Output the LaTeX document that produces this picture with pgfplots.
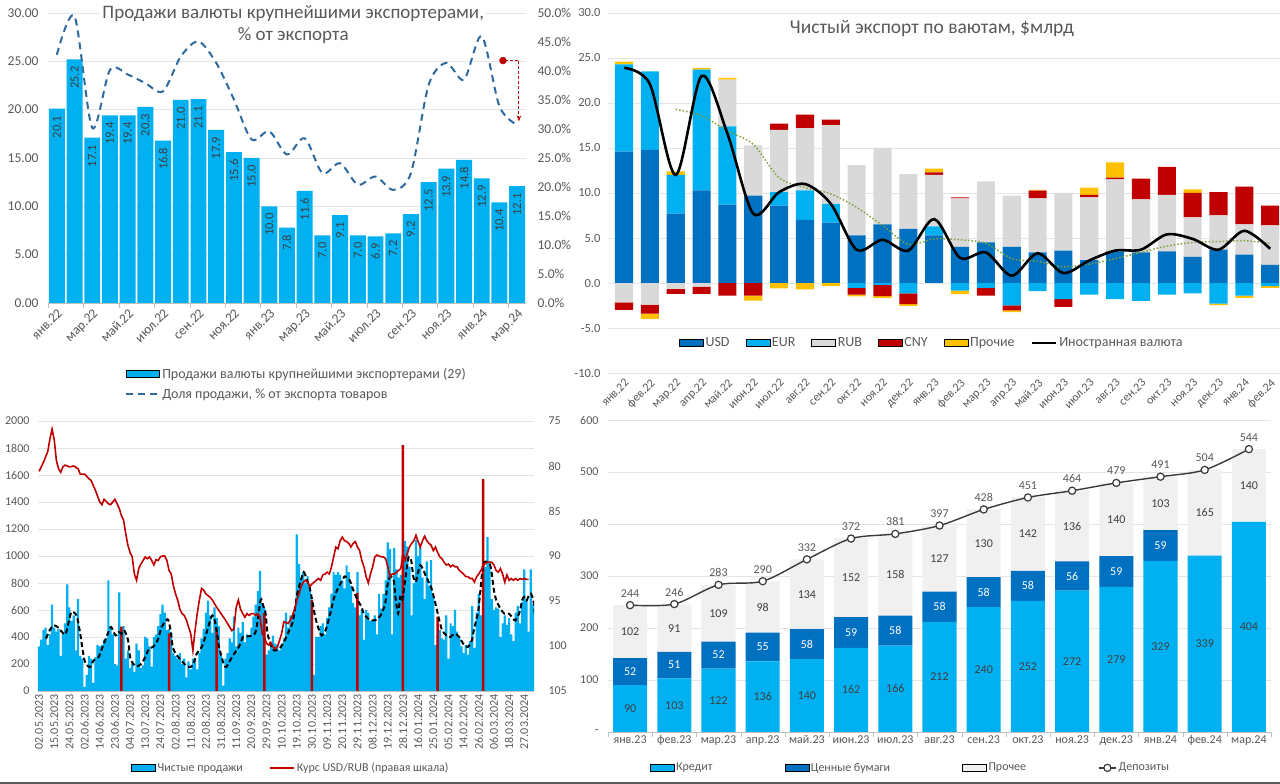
\documentclass[border=0pt]{standalone}
\usepackage{fontspec}
\setmainfont{Carlito}
\usepackage{pgfplots}
\pgfplotsset{compat=1.18}
\usetikzlibrary{arrows.meta}

\definecolor{cLB}{HTML}{00B0F0}
\definecolor{cDB}{HTML}{0070C0}
\definecolor{cGR}{HTML}{D9D9D9}
\definecolor{cRD}{HTML}{C00000}
\definecolor{cYL}{HTML}{FFC000}
\definecolor{cTX}{HTML}{595959}
\definecolor{cTXd}{HTML}{404040}
\definecolor{cGRID}{HTML}{E4E4E4}
\definecolor{cAxis}{HTML}{BFBFBF}
\definecolor{cDash}{HTML}{2E6A9E}
\definecolor{cGreen}{HTML}{7FA33A}
\definecolor{cPR}{HTML}{F0F0F0}
\definecolor{cLine}{HTML}{3A3A3A}

\newcommand\fT{\fontsize{19}{21}\selectfont}
\newcommand\fTB{\fontsize{19.5}{22}\selectfont}
\newcommand\fTick{\fontsize{13.5}{16}\selectfont}
\newcommand\fS{\fontsize{12}{14}\selectfont}
\newcommand\fSB{\fontsize{12.5}{15}\selectfont}
\newcommand\fLeg{\fontsize{14}{16}\selectfont}

\pgfplotsset{
  every axis/.append style={/pgf/number format/assume math mode=true,/pgf/number format/1000 sep={}},
  base/.style={scale only axis, anchor=south west, tick label style={text=cTX}},
  boxlegA/.style={legend image code/.code={\fill[##1] (0pt,-3.5pt) rectangle (33pt,3.5pt);}},
  boxleg/.style={legend image code/.code={\fill[##1] (0pt,-3.5pt) rectangle (24pt,3.5pt);}},
  linelegA/.style={legend image code/.code={\draw[##1] (0pt,0pt) -- (33pt,0pt);}},
  lineleg/.style={legend image code/.code={\draw[##1] (0pt,0pt) -- (24pt,0pt);}},
}

\begin{document}
\begin{tikzpicture}
\path[use as bounding box, fill=white] (0pt,0pt) rectangle (1280pt,784pt);

%================ PANEL A (top-left) =================
\begin{axis}[base, at={(48pt,481pt)}, width=478pt, height=290pt,
  xmin=-0.5, xmax=26.5, ymin=0, ymax=30,
  axis x line*=bottom, axis y line*=left, y axis line style={draw=none}, x axis line style={cAxis},
  ymajorgrids, grid style={cGRID},
  ytick={0,5,...,30}, yticklabel={\pgfmathprintnumber[fixed,fixed zerofill,precision=2]{\tick}},
  yticklabel style={font=\fTick, xshift=-6pt},
  xtick={0,2,...,26},
  xticklabels={янв.22,мар.22,май.22,июл.22,сен.22,ноя.22,янв.23,мар.23,май.23,июл.23,сен.23,ноя.23,янв.24,мар.24},
  xticklabel style={font=\fTick, rotate=45, anchor=north east},
  minor xtick={-0.5,1.5,...,26.5}, major tick length=0pt, minor tick length=5pt, tick align=outside,
  tick style={cAxis},
  legend style={at={(0.155,-0.21)}, anchor=north west, draw=none, fill=none, font=\fLeg, text=cTX, /tikz/row sep=5pt},
  legend cell align=left,
]
\addplot[ybar, bar width=0.9, bar shift=0pt, fill=cLB, draw=none, forget plot]
 coordinates {(0,20.1)(1,25.2)(2,17.1)(3,19.4)(4,19.4)(5,20.3)(6,16.8)(7,21.0)(8,21.1)(9,17.9)(10,15.6)(11,15.0)(12,10.0)(13,7.8)(14,11.6)(15,7.0)(16,9.1)(17,7.0)(18,6.9)(19,7.2)(20,9.2)(21,12.5)(22,13.9)(23,14.8)(24,12.9)(25,10.4)(26,12.1)};
\addplot[draw=none, forget plot,
  nodes near coords={\pgfmathprintnumber[fixed,fixed zerofill,precision=1]{\pgfplotspointmeta}},
  every node near coord/.append style={rotate=90, anchor=east, font=\fSB, text=cTXd, inner xsep=7pt}]
 coordinates {(0,20.1)(1,25.2)(2,17.1)(3,19.4)(4,19.4)(5,20.3)(6,16.8)(7,21.0)(8,21.1)(9,17.9)(10,15.6)(11,15.0)(12,10.0)(13,7.8)(14,11.6)(15,7.0)(16,9.1)(17,7.0)(18,6.9)(19,7.2)(20,9.2)(21,12.5)(22,13.9)(23,14.8)(24,12.9)(25,10.4)(26,12.1)};
\addlegendimage{boxlegA, fill=cLB}
\addlegendentry{Продажи валюты крупнейшими экспортерами (29)}
\addlegendimage{linelegA, cDash, line width=2pt, dash pattern=on 7pt off 5pt}
\addlegendentry{Доля продажи, \% от экспорта товаров}
\end{axis}

\begin{axis}[base, at={(48pt,481pt)}, width=478pt, height=290pt,
  xmin=-0.5, xmax=26.5, ymin=0, ymax=50,
  axis y line*=right, axis x line=none, y axis line style={draw=none},
  ytick={0,5,...,50}, yticklabel={\pgfmathprintnumber[fixed,fixed zerofill,precision=1]{\tick}\%},
  yticklabel style={font=\fTick, xshift=8pt}, major tick length=0pt,
  title={Продажи валюты крупнейшими экспортерами,},
  title style={at={(0.513,0.9966)}, anchor=center, yshift=-6pt, fill=white, inner sep=2pt, font=\fT, text=cTX},
  clip=false,
]
\addplot[smooth, cDash, line width=2pt, dash pattern=on 7pt off 5pt]
 coordinates {(0,42.8)(1,49.4)(2,30.2)(3,40.2)(4,39.4)(5,37.9)(6,36.5)(7,42.5)(8,45.1)(9,41.4)(10,35.1)(11,28.2)(12,29.6)(13,25.6)(14,28.4)(15,22.4)(16,24.1)(17,20.4)(18,21.8)(19,19.5)(20,22.4)(21,37.6)(22,41.4)(23,38.5)(24,46.0)(25,33.9)(26,30.7)};
\addplot[cRD, densely dashed, line width=1pt, -{Stealth[length=6pt]}] coordinates {(25.3,41.8)(26.1,41.8)(26.1,31.3)};
\addplot[only marks, mark=*, mark size=3.5pt, cRD] coordinates {(25.2,41.8)};
\node[font=\fT, text=cTX] at (rel axis cs:0.513,0.922) {\% от экспорта};
\end{axis}

%================ PANEL B (top-right) =================
\begin{axis}[base, at={(608pt,411pt)}, width=672pt, height=360pt,
  xmin=-0.62, xmax=25.38, ymin=-10, ymax=30,
  ybar stacked, bar width=0.7,
  axis x line*=bottom, axis y line*=left, axis line style={draw=none},
  ymajorgrids, grid style={cGRID},
  ytick={-10,-5,...,30}, yticklabel={\pgfmathprintnumber[fixed,fixed zerofill,precision=1]{\tick}},
  yticklabel style={font=\fSB, xshift=-4pt},
  xtick={0,...,25},
  xticklabels={янв.22,фев.22,мар.22,апр.22,май.22,июн.22,июл.22,авг.22,сен.22,окт.22,ноя.22,дек.22,янв.23,фев.23,мар.23,апр.23,май.23,июн.23,июл.23,авг.23,сен.23,окт.23,ноя.23,дек.23,янв.24,фев.24},
  xticklabel style={font=\fS, rotate=45, anchor=north east},
  major tick length=0pt,
  title={Чистый экспорт по ваютам, \$млрд},
  title style={at={(0.482,0.958)}, anchor=center, yshift=-6pt, font=\fTB, text=cTX},
]
% negatives
\addplot[fill=cLB, draw=none] coordinates {(0,0)(1,0)(2,0)(3,0)(4,0)(5,0)(6,0)(7,0)(8,0)(9,-0.55)(10,-0.2)(11,-1.15)(12,0)(13,-0.85)(14,-0.55)(15,-2.5)(16,-0.9)(17,-1.8)(18,-1.3)(19,-1.8)(20,-2.0)(21,-1.3)(22,-1.15)(23,-2.3)(24,-1.4)(25,-0.35)};
\addplot[fill=cGR, draw=none] coordinates {(0,-2.15)(1,-2.4)(2,-0.65)(3,-0.4)(4,0)(5,0)(6,0)(7,0)(8,0)(9,0)(10,0)(11,0)(12,0)(13,0)(14,0)(15,0)(16,0)(17,0)(18,0)(19,0)(20,0)(21,0)(22,0)(23,0)(24,0)(25,0)};
\addplot[fill=cRD, draw=none] coordinates {(0,-0.85)(1,-1.0)(2,-0.55)(3,-0.8)(4,-1.4)(5,-1.4)(6,0)(7,0)(8,0)(9,-0.75)(10,-1.25)(11,-1.2)(12,0)(13,0)(14,-0.85)(15,-0.55)(16,0)(17,-0.85)(18,0)(19,0)(20,0)(21,0)(22,0)(23,0)(24,0)(25,0)};
\addplot[fill=cYL, draw=none] coordinates {(0,0)(1,-0.6)(2,0)(3,0)(4,0)(5,-0.55)(6,-0.6)(7,-0.7)(8,-0.35)(9,-0.2)(10,-0.2)(11,-0.2)(12,0)(13,-0.35)(14,0)(15,-0.2)(16,0)(17,0)(18,0)(19,0)(20,0)(21,0)(22,0)(23,-0.15)(24,-0.25)(25,-0.2)};
\end{axis}

\begin{axis}[base, at={(608pt,411pt)}, width=672pt, height=360pt,
  xmin=-0.62, xmax=25.38, ymin=-10, ymax=30, hide axis,
  ybar stacked, bar width=0.7]
\addplot[fill=cDB, draw=none] coordinates {(0,14.6)(1,14.8)(2,7.7)(3,10.3)(4,8.7)(5,9.7)(6,8.6)(7,7.0)(8,6.7)(9,5.3)(10,6.5)(11,6.0)(12,5.3)(13,4.0)(14,4.5)(15,4.0)(16,3.4)(17,3.6)(18,2.55)(19,3.5)(20,3.4)(21,3.5)(22,2.9)(23,3.7)(24,3.15)(25,2.0)};
\addplot[fill=cLB, draw=none] coordinates {(0,9.7)(1,8.7)(2,4.3)(3,13.4)(4,8.7)(5,0)(6,1.5)(7,3.3)(8,2.1)(9,0)(10,0)(11,0)(12,1.0)(13,0)(14,0)(15,0)(16,0)(17,0)(18,0)(19,0)(20,0)(21,0)(22,0)(23,0)(24,0)(25,0)};
\addplot[fill=cGR, draw=none] coordinates {(0,0)(1,0)(2,0)(3,0)(4,5.2)(5,5.6)(6,6.9)(7,6.9)(8,8.75)(9,7.8)(10,8.5)(11,6.1)(12,5.7)(13,5.4)(14,6.8)(15,5.7)(16,6.0)(17,6.4)(18,6.95)(19,8.0)(20,5.9)(21,6.3)(22,4.4)(23,3.8)(24,3.35)(25,4.4)};
\addplot[fill=cRD, draw=none] coordinates {(0,0)(1,0)(2,0)(3,0)(4,0)(5,0)(6,0.7)(7,1.5)(8,0.6)(9,0)(10,0)(11,0)(12,0.3)(13,0.1)(14,0)(15,0)(16,0.85)(17,0)(18,0.3)(19,0.2)(20,2.3)(21,3.1)(22,2.7)(23,2.6)(24,4.2)(25,2.2)};
\addplot[fill=cYL, draw=none] coordinates {(0,0.3)(1,0)(2,0.4)(3,0.2)(4,0.2)(5,0)(6,0)(7,0)(8,0)(9,0)(10,0)(11,0)(12,0.4)(13,0)(14,0)(15,0)(16,0.1)(17,0)(18,0.8)(19,1.7)(20,0)(21,0)(22,0.4)(23,0)(24,0)(25,0)};
\end{axis}

\begin{axis}[base, at={(608pt,411pt)}, width=672pt, height=360pt,
  xmin=-0.62, xmax=25.38, ymin=-10, ymax=30, hide axis,
  legend style={at={(0.482,0.083)}, anchor=center, draw=none, fill=none, font=\fLeg, text=cTX,
    /tikz/every even column/.append style={column sep=14pt}},
  legend columns=6,
]
\addplot[cGreen, line width=1.5pt, dotted, smooth, forget plot] coordinates {(2,19.3)(3,18.6)(4,16.9)(5,15.4)(6,11.7)(7,10.6)(8,9.9)(9,8.4)(10,6.4)(11,4.3)(12,4.9)(13,4.8)(14,4.4)(15,2.7)(16,2.4)(17,1.8)(18,2.1)(19,2.7)(20,3.4)(21,4.1)(22,4.5)(23,4.6)(24,4.7)(25,4.4)};
\addplot[black, line width=2.6pt, smooth, forget plot] coordinates {(0,23.9)(1,22.1)(2,12.0)(3,23.0)(4,16.6)(5,7.7)(6,10.1)(7,11.0)(8,8.8)(9,3.7)(10,4.8)(11,3.6)(12,7.1)(13,2.8)(14,3.4)(15,0.8)(16,3.3)(17,1.1)(18,2.5)(19,3.6)(20,3.7)(21,5.4)(22,4.9)(23,3.7)(24,5.8)(25,3.8)};
\addlegendimage{boxleg, fill=cDB}\addlegendentry{USD}
\addlegendimage{boxleg, fill=cLB}\addlegendentry{EUR}
\addlegendimage{boxleg, fill=cGR}\addlegendentry{RUB}
\addlegendimage{boxleg, fill=cRD}\addlegendentry{CNY}
\addlegendimage{boxleg, fill=cYL}\addlegendentry{Прочие}
\addlegendimage{lineleg, black, line width=2.6pt}\addlegendentry{Иностранная валюта}
\end{axis}

%================ PANEL C (bottom-left) =================
\begin{axis}[base, at={(38pt,93pt)}, width=496pt, height=270pt,
  xmin=-0.5, xmax=228.5, ymin=0, ymax=2000,
  axis x line*=bottom, axis y line*=left, y axis line style={draw=none}, x axis line style={cAxis},
  ymajorgrids, grid style={cGRID},
  ytick={0,200,...,2000}, yticklabel style={font=\fS, xshift=-5pt},
  xtick={0,7,...,224},
  xticklabels={02.05.2023,15.05.2023,24.05.2023,02.06.2023,14.06.2023,23.06.2023,04.07.2023,13.07.2023,24.07.2023,02.08.2023,11.08.2023,22.08.2023,31.08.2023,11.09.2023,20.09.2023,29.09.2023,10.10.2023,19.10.2023,30.10.2023,09.11.2023,20.11.2023,29.11.2023,08.12.2023,19.12.2023,28.12.2023,16.01.2024,25.01.2024,05.02.2024,14.02.2024,26.02.2024,06.03.2024,18.03.2024,27.03.2024},
  xticklabel style={font=\fS, rotate=90, anchor=east},
  major tick length=0pt,
  legend style={at={(0.51,-0.285)}, anchor=center, draw=none, fill=none, font=\fS, text=cTX,
    /tikz/every even column/.append style={column sep=24pt}},
  legend columns=2,
]
\addplot[ybar, bar width=1, bar shift=0pt, fill=cLB, draw=none, forget plot] coordinates {
(0,330)(1,380)(2,450)(3,470)(4,340)(5,420)(6,640)
(7,470)(8,440)(9,460)(10,260)(11,430)(12,500)(13,790)
(14,620)(15,520)(16,560)(17,300)(18,680)(19,260)(20,240)
(21,30)(22,120)(23,260)(24,240)(25,60)(26,250)(27,340)
(28,330)(29,340)(30,380)(31,390)(32,820)(33,480)(34,420)
(35,200)(36,190)(37,730)(38,470)(39,480)(40,240)(41,300)
(42,170)(43,200)(44,140)(45,350)(46,300)(47,170)(48,190)
(49,400)(50,390)(51,330)(52,180)(53,400)(54,420)(55,480)
(56,570)(57,640)(58,580)(59,450)(60,460)(61,430)(62,280)
(63,260)(64,240)(65,280)(66,200)(67,240)(68,100)(69,220)
(70,160)(71,240)(72,230)(73,160)(74,280)(75,390)(76,460)
(77,580)(78,670)(79,560)(80,430)(81,620)(82,540)(83,480)
(84,260)(85,40)(86,240)(87,280)(88,390)(89,360)(90,550)
(91,330)(92,470)(93,430)(94,510)(95,360)(96,420)(97,400)
(98,470)(99,550)(100,640)(101,740)(102,890)(103,650)(104,620)
(105,270)(106,300)(107,340)(108,410)(109,350)(110,340)(111,300)
(112,350)(113,390)(114,580)(115,470)(116,560)(117,560)(118,620)
(119,1160)(120,940)(121,830)(122,880)(123,800)(124,850)(125,780)
(126,640)(127,120)(128,400)(129,400)(130,480)(131,500)(132,420)
(133,540)(134,620)(135,720)(136,880)(137,860)(138,880)(139,860)
(140,820)(141,760)(142,930)(143,880)(144,780)(145,650)(146,620)
(147,880)(148,560)(149,600)(150,380)(151,600)(152,580)(153,520)
(154,520)(155,560)(156,420)(157,720)(158,610)(159,720)(160,820)
(161,1100)(162,1050)(163,420)(164,1060)(165,900)(166,840)(167,860)
(168,600)(169,1110)(170,1070)(171,920)(172,560)(173,800)(174,1120)
(175,1000)(176,1070)(177,840)(178,680)(179,960)(180,780)(181,970)
(182,700)(183,340)(184,420)(185,450)(186,390)(187,380)(188,560)
(189,240)(190,500)(191,480)(192,600)(193,440)(194,400)(195,330)
(196,280)(197,340)(198,270)(199,370)(200,630)(201,320)(202,580)
(203,720)(204,560)(205,850)(206,920)(207,1140)(208,960)(209,680)
(210,600)(211,620)(212,610)(213,400)(214,500)(215,560)(216,490)
(217,540)(218,420)(219,370)(220,580)(221,630)(222,500)(223,660)
(224,900)(225,680)(226,440)(227,900)(228,640)};
\addplot[ybar, bar width=1.15, bar shift=0pt, fill=cRD, draw=none, forget plot] coordinates {(38,476)(60,427)(82,467)(104,577)(126,674)(147,726)(168,1822)(184,550)(205,1570)};
\addplot[black, line width=2pt, dash pattern=on 5pt off 3pt, smooth, forget plot] coordinates {
(3.2,388)(4.9,450)(6.7,486)(8.5,474)(10.6,437)(12.3,425)(14.6,573)(15.5,585)(17.3,560)(19,425)(19.9,326)(21.2,215)(23.5,178)(25.2,227)(27.5,252)(29.3,326)(31.4,412)(33.2,474)(35.3,412)(36.7,437)(38.1,425)(39.3,450)(41.1,375)(42,252)(43.4,202)(45.1,183)(47.3,202)(49,252)(50.8,314)(52.6,326)(54.7,375)(56.6,474)(58.7,523)(59.6,528)(60.7,450)(61.7,326)(63.1,277)(64.9,240)(67,202)(69.1,178)(71,190)(72.8,277)(75.1,326)(77.2,425)(79,523)(80,560)(81.1,523)(82.2,425)(83.1,326)(85.2,202)(86.4,178)(88.2,227)(90.1,277)(92.2,326)(94.2,400)(96.3,405)(98.4,412)(100.2,450)(102.3,672)(103.4,635)(104.6,573)(105.5,425)(107.6,314)(109.3,301)(111.6,326)(113.4,375)(115.5,450)(117.3,523)(119.2,721)(121.3,844)(122.2,881)(123.5,832)(125.2,746)(127.5,548)(129.3,450)(130.5,412)(132.3,450)(134.4,573)(136.3,696)(138.3,770)(140.4,832)(141.3,849)(143.4,820)(145.1,746)(147.1,672)(148.9,622)(149.9,573)(151.9,536)(153.8,523)(155.7,528)(157.7,560)(159.8,647)(160.7,770)(161.9,844)(163.7,820)(164.7,672)(165.8,573)(166.7,696)(167.7,672)(169.8,918)(170.7,993)(171.8,968)(172.8,844)(173.9,807)(174.8,869)(176,931)(177.1,906)(178.1,869)(179.9,807)(181,770)(181.8,721)(183,647)(184.8,523)(186.1,450)(188,412)(189.8,400)(191.9,425)(194,400)(195.8,351)(197.9,326)(199.8,375)(200.7,450)(201.8,523)(202.8,598)(203.9,770)(204.8,918)(205.6,956)(206.9,956)(208.1,943)(209,869)(210,746)(211.1,672)(213,610)(214.8,573)(216.9,573)(218.9,536)(219.9,523)(221.9,585)(223,672)(224,696)(225.1,672)(226.1,709)(227.1,721)(228.2,672)(228.9,573)};
\addlegendimage{boxleg, fill=cLB}\addlegendentry{Чистые продажи}
\addlegendimage{lineleg, cRD, line width=2pt}\addlegendentry{Курс USD/RUB (правая шкала)}
\end{axis}

\begin{axis}[base, at={(38pt,93pt)}, width=496pt, height=270pt,
  xmin=-0.5, xmax=228.5, ymin=75, ymax=105, y dir=reverse,
  axis y line*=right, axis x line=none, y axis line style={draw=none},
  ytick={75,80,...,105}, yticklabel style={font=\fS, xshift=11pt}, major tick length=0pt,
]
\addplot[cRD, line width=1.6pt] coordinates {
(0,80.6)(2,79.6)(4,78.4)(5,77.0)(6,75.9)(7,77.1)(8,79.4)(9,80.3)(10,80.7)(11,80.1)(12,79.9)(14,80.1)(16,80.0)(18,80.3)(19,80.9)(21,80.9)(23,81.4)(24,81.6)(26,82.7)(28,84.0)(29,84.3)(30,83.7)(32,84.2)(33,84.3)(35,83.7)(36,84.2)(37,84.7)(38,85.5)(39,86.0)(40,87.5)(41,88.8)(42,89.6)(43,90.1)(44,92.0)(45,92.7)(46,91.4)(47,90.9)(48,90.5)(49,90.1)(50,90.3)(51,90.1)(52,90.5)(53,91.0)(54,90.4)(55,90.5)(56,90.1)(57,90.0)(58,90.0)(59,90.5)(60,91.6)(61,92.0)(62,93.3)(63,94.2)(64,94.9)(65,95.9)(66,96.4)(67,96.6)(68,97.1)(69,97.9)(70,98.6)(71,100.5)(72,98.3)(73,96.4)(74,94.9)(75,93.6)(76,93.8)(77,94.2)(78,94.4)(79,94.6)(80,94.9)(82,95.7)(84,96.4)(86,97.1)(88,97.9)(89,98.3)(90,98.1)(91,95.7)(92,94.9)(93,95.9)(94,96.4)(95,96.8)(96,96.4)(97,96.6)(98,96.4)(99,96.4)(100,96.6)(101,96.4)(102,96.8)(103,98.6)(104,99.0)(105,99.7)(106,99.9)(107,99.6)(108,100.1)(109,100.3)(110,100.1)(111,99.4)(112,98.6)(113,97.3)(114,97.4)(115,97.5)(116,97.1)(117,96.6)(118,95.9)(119,94.9)(120,94.2)(121,93.4)(122,92.9)(123,92.7)(124,92.9)(125,93.4)(126,93.1)(127,92.9)(128,92.7)(129,92.5)(130,92.7)(131,92.1)(132,92.0)(133,91.8)(134,92.0)(135,91.2)(136,90.1)(137,89.0)(138,89.2)(139,88.3)(140,87.9)(141,88.3)(142,88.4)(143,88.6)(144,89.0)(145,88.6)(146,88.4)(147,89.0)(148,89.4)(149,90.5)(150,91.2)(151,92.3)(152,93.0)(153,92.0)(154,91.2)(155,90.1)(156,89.9)(157,90.0)(158,90.1)(159,90.1)(160,90.3)(161,91.2)(162,92.3)(163,92.0)(164,92.0)(165,91.8)(166,91.6)(167,91.4)(168,89.7)(169,90.5)(170,89.7)(171,89.0)(172,88.6)(173,88.3)(174,87.7)(175,88.4)(176,89.0)(177,88.3)(178,87.8)(179,88.3)(180,88.6)(181,88.8)(182,89.4)(183,89.0)(184,89.6)(185,90.1)(186,90.3)(187,90.7)(188,91.0)(189,90.9)(190,91.2)(191,91.0)(192,91.2)(193,91.2)(194,91.6)(195,91.8)(196,92.0)(197,92.3)(198,92.3)(199,92.5)(200,92.5)(201,92.9)(202,92.3)(203,92.0)(204,91.6)(205,91.2)(206,90.8)(207,90.7)(208,90.7)(209,90.7)(210,91.0)(211,91.6)(212,91.8)(213,91.4)(214,92.0)(215,92.9)(216,92.1)(217,92.7)(218,92.5)(219,92.7)(220,92.5)(221,92.7)(222,92.5)(223,92.6)(224,92.5)(225,92.6)(226,92.6)};
\end{axis}

%================ PANEL D (bottom-right) =================
\begin{axis}[base, at={(608pt,52pt)}, width=663pt, height=312pt,
  xmin=-0.5, xmax=14.5, ymin=0, ymax=600,
  ybar stacked, bar width=0.77,
  axis x line*=bottom, axis y line*=left, y axis line style={draw=none}, x axis line style={cAxis},
  ymajorgrids, grid style={cGRID},
  ytick={0,100,...,600}, yticklabels={-,100,200,300,400,500,600}, yticklabel style={font=\fS, xshift=-6pt},
  xtick={0,...,14},
  xticklabels={янв.23,фев.23,мар.23,апр.23,май.23,июн.23,июл.23,авг.23,сен.23,окт.23,ноя.23,дек.23,янв.24,фев.24,мар.24},
  xticklabel style={font=\fS},
  minor xtick={-0.5,0.5,...,14.5}, major tick length=0pt, minor tick length=5pt, tick align=outside,
  tick style={cAxis},
]
\addplot[fill=cLB, draw=none] coordinates {(0,90)(1,103)(2,122)(3,136)(4,140)(5,162)(6,166)(7,212)(8,240)(9,252)(10,272)(11,279)(12,329)(13,339)(14,404)};
\addplot[fill=cDB, draw=none] coordinates {(0,52)(1,51)(2,52)(3,55)(4,58)(5,59)(6,58)(7,58)(8,58)(9,58)(10,56)(11,59)(12,59)(13,0)(14,0)};
\addplot[fill=cPR, draw=none] coordinates {(0,102)(1,91)(2,109)(3,98)(4,134)(5,152)(6,158)(7,127)(8,130)(9,142)(10,136)(11,140)(12,103)(13,165)(14,140)};
\end{axis}

\begin{axis}[base, at={(608pt,52pt)}, width=663pt, height=312pt,
  xmin=-0.5, xmax=14.5, ymin=0, ymax=600, hide axis, clip=false,
  legend style={at={(0.058,-0.115)}, anchor=west, draw=none, fill=none, font=\fS, text=cTX,
    /tikz/every even column/.append style={column sep=70pt}},
  legend columns=4,
]
\addplot[draw=none, forget plot, nodes near coords, point meta=explicit symbolic,
  every node near coord/.append style={anchor=center, font=\fS, text=cTXd}]
 coordinates {(0,45)[90] (1,51.5)[103] (2,61)[122] (3,68)[136] (4,70)[140] (5,81)[162] (6,83)[166] (7,106)[212] (8,120)[240] (9,126)[252] (10,136)[272] (11,139.5)[279] (12,164.5)[329] (13,169.5)[339] (14,202)[404]};
\addplot[draw=none, forget plot, nodes near coords, point meta=explicit symbolic,
  every node near coord/.append style={anchor=center, font=\fS, text=white}]
 coordinates {(0,116)[52] (1,128.5)[51] (2,148)[52] (3,163.5)[55] (4,169)[58] (5,191.5)[59] (6,195)[58] (7,241)[58] (8,269)[58] (9,281)[58] (10,300)[56] (11,308.5)[59] (12,358.5)[59]};
\addplot[draw=none, forget plot, nodes near coords, point meta=explicit symbolic,
  every node near coord/.append style={anchor=center, font=\fS, text=cTXd}]
 coordinates {(0,193)[102] (1,199.5)[91] (2,228.5)[109] (3,240)[98] (4,265)[134] (5,297)[152] (6,303)[158] (7,333.5)[127] (8,363)[130] (9,381)[142] (10,396)[136] (11,408)[140] (12,439.5)[103] (13,421.5)[165] (14,474)[140]};
\addplot[cLine, line width=1.4pt, smooth, mark=*, mark size=3.6pt, mark options={fill=white, line width=1.2pt}, forget plot,
  nodes near coords, every node near coord/.append style={anchor=south, yshift=4pt, font=\fS, text=cTX}]
 coordinates {(0,244)(1,246)(2,283)(3,290)(4,332)(5,372)(6,381)(7,397)(8,428)(9,451)(10,464)(11,479)(12,491)(13,504)(14,544)};
\addlegendimage{boxleg, fill=cLB}\addlegendentry{Кредит}
\addlegendimage{boxleg, fill=cDB}\addlegendentry{Ценные бумаги}
\addlegendimage{boxleg, fill=cPR}\addlegendentry{Прочее}
\addlegendimage{cLine, line width=1.4pt, mark=*, mark size=3.6pt, mark options={fill=white, line width=1.2pt}}\addlegendentry{Депозиты}
\end{axis}

\draw[gray!70!black, line width=2pt] (0pt,1pt) -- (1280pt,1pt);
\end{tikzpicture}
\end{document}
